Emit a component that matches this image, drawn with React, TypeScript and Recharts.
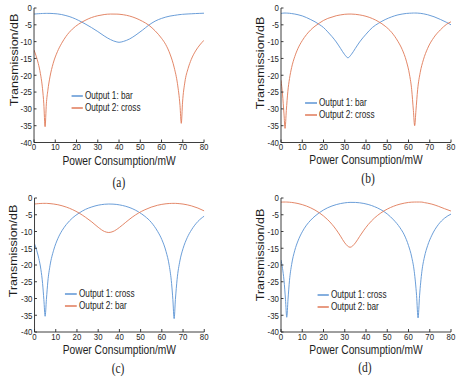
import React from 'react';
import { LineChart, Line, XAxis, YAxis, Legend, Label } from 'recharts';

// ---------- tick labels ----------
const X_TICKS = [0, 10, 20, 30, 40, 50, 60, 70, 80];
const Y_TICKS = [-40, -35, -30, -25, -20, -15, -10, -5, 0];

// ---------- panel (a) ----------
const X_A = [0, 1, 2, 3, 4, 4.6, 5.2, 5.8, 6.5, 7.5, 9, 11, 13, 15, 18, 21, 24, 27, 30, 33, 36, 39, 40, 42, 45, 48, 51, 54, 57, 60, 62, 64, 66, 67.5, 68.7, 69.3, 69.9, 71, 72.5, 74, 76, 78, 80];
const A_OUT1_BAR = [-1.8, -1.75, -1.7, -1.66, -1.63, -1.62, -1.6, -1.6, -1.6, -1.6, -1.65, -1.75, -1.95, -2.25, -2.85, -3.7, -4.7, -5.8, -7.0, -8.3, -9.4, -10.1, -10.2, -9.95, -9.2, -8.0, -6.6, -5.1, -3.9, -3.1, -2.7, -2.4, -2.2, -2.05, -1.95, -1.92, -1.88, -1.83, -1.77, -1.72, -1.65, -1.6, -1.55];
const A_OUT2_CROSS = [-12.5, -14.3, -16.5, -19.5, -24, -28.5, -35.3, -28.5, -24.5, -20.5, -16.5, -13, -10.5, -8.5, -6.3, -4.8, -3.7, -2.85, -2.3, -1.95, -1.8, -1.82, -1.85, -2.0, -2.4, -3.05, -3.95, -5.1, -6.8, -9.0, -10.9, -13.7, -17.8, -22.5, -29, -34.3, -28, -22, -18, -15.3, -12.8, -11, -9.6];

// ---------- panel (b) ----------
const X_B = [0, 0.7, 1.4, 1.9, 2.5, 3.2, 4, 5, 6.5, 8, 10, 12, 14, 16, 18, 20, 22, 24, 26, 28, 30, 31.5, 33, 35, 37, 40, 43, 46, 49, 52, 55, 57, 59, 60.5, 61.5, 62.3, 62.9, 63.5, 64.3, 65.5, 67, 69, 72, 75, 78, 80];
const B_OUT1_BAR = [-1.6, -1.55, -1.5, -1.5, -1.51, -1.53, -1.57, -1.65, -1.8, -2.0, -2.35, -2.85, -3.45, -4.1, -4.9, -5.8, -7.1, -8.5, -10.1, -12.0, -13.9, -14.8, -13.9, -12.0, -10.1, -7.8, -5.8, -4.5, -3.45, -2.65, -2.05, -1.8, -1.62, -1.55, -1.52, -1.5, -1.5, -1.5, -1.52, -1.58, -1.72, -2.0, -2.6, -3.4, -4.3, -5.0];
const B_OUT2_CROSS = [-21.5, -25.6, -31.5, -35.8, -30.5, -24.9, -21, -17.7, -14.4, -12.0, -9.7, -7.9, -6.5, -5.4, -4.5, -3.7, -3.1, -2.7, -2.3, -2.05, -1.87, -1.81, -1.8, -1.88, -2.05, -2.47, -3.14, -4.1, -5.4, -7.2, -9.9, -12.3, -15.8, -19.9, -24.3, -30.5, -35, -30.5, -24.3, -19.2, -15.4, -12.0, -8.7, -6.5, -4.8, -4.1];

// ---------- panel (c) ----------
const X_C = [0, 1, 2, 3, 3.8, 4.4, 5, 5.6, 6.3, 7.3, 9, 11, 13, 15, 18, 21, 24, 27, 30, 33, 35, 37, 40, 43, 46, 49, 52, 55, 58, 60, 62, 63.5, 64.6, 65.2, 65.8, 66.4, 67.2, 68.5, 70, 72, 74, 77, 80];
const C_OUT1_CROSS = [-13.7, -15.6, -18.0, -21.3, -25.5, -30.3, -35.3, -30.3, -24.8, -20.2, -15.6, -12.1, -9.7, -7.9, -5.9, -4.5, -3.4, -2.67, -2.15, -1.87, -1.8, -1.83, -2.05, -2.48, -3.15, -4.14, -5.46, -7.25, -9.96, -12.4, -16.0, -20.2, -25.5, -30.3, -36, -30.3, -24.3, -18.8, -15.1, -11.8, -9.5, -7.0, -5.4];
const C_OUT2_BAR = [-1.8, -1.73, -1.67, -1.63, -1.61, -1.6, -1.6, -1.6, -1.63, -1.67, -1.8, -2.01, -2.32, -2.72, -3.49, -4.49, -5.74, -7.14, -8.74, -10.0, -10.3, -10.0, -8.8, -7.25, -5.75, -4.5, -3.51, -2.73, -2.16, -1.9, -1.72, -1.64, -1.61, -1.6, -1.6, -1.6, -1.63, -1.7, -1.81, -2.04, -2.36, -3.0, -3.86];

// ---------- panel (d) ----------
const X_D = [0, 0.7, 1.4, 2.1, 2.7, 3.3, 4, 5, 6.5, 8, 10, 12, 14, 16, 18, 20, 22, 24, 26, 28, 30, 32.5, 35, 37, 39, 41, 44, 47, 50, 53, 56, 58, 60, 61.5, 62.7, 63.8, 64.5, 65.2, 66.3, 67.5, 69, 71, 74, 77, 80];
const D_OUT1_CROSS = [-18.5, -21.0, -24.55, -30.2, -35.6, -30.2, -24.55, -19.85, -15.6, -12.8, -10.1, -8.1, -6.6, -5.4, -4.4, -3.57, -2.9, -2.38, -1.97, -1.66, -1.45, -1.31, -1.32, -1.43, -1.63, -1.93, -2.58, -3.49, -4.77, -6.54, -8.88, -11.0, -14.2, -17.6, -21.9, -29.1, -35.8, -29.2, -21.9, -17.6, -14.2, -11.1, -7.97, -6.0, -4.8];
const D_OUT2_BAR = [-1.23, -1.21, -1.2, -1.2, -1.21, -1.23, -1.26, -1.32, -1.46, -1.65, -1.98, -2.41, -2.95, -3.61, -4.41, -5.36, -6.5, -7.86, -9.48, -11.38, -13.39, -14.7, -13.4, -11.46, -9.61, -7.96, -5.97, -4.46, -3.31, -2.45, -1.83, -1.54, -1.32, -1.24, -1.21, -1.2, -1.2, -1.2, -1.22, -1.38, -1.54, -1.83, -2.46, -3.2, -3.9];

// ---------- styling / layout ----------
const FONT = '"Liberation Sans", Arial, Helvetica, sans-serif';
const SERIF = '"Liberation Serif", "Times New Roman", Times, serif';
const AXIS = '#2a2a2a';
const TEXT = '#1e1e1e';
const BLUE = '#5c94d4';
const RED = '#e07a58';
const SX = 0.82; // the reference figure is horizontally compressed
const PAGE_W = 465 / SX;
const PW = 283;
const PH = 189;

type Cfg = {
  left: number; top: number;
  xs: number[]; s1: number[]; s2: number[];
  n1: string; n2: string;
  margin: { top: number; right: number; bottom: number; left: number };
  yw: number;
  xLabelY: number; yLabelX: number; yLabelY: number;
  legendLeft: number; legendTop: number;
};

const PANELS: Cfg[] = [
  { left: 0, top: 0, xs: X_A, s1: A_OUT1_BAR, s2: A_OUT2_CROSS, n1: 'Output 1: bar', n2: 'Output 2: cross',
    margin: { top: 8, right: 34.2, bottom: 26.5, left: 0 }, yw: 41.5,
    xLabelY: 165.5, yLabelX: 17, yLabelY: 60, legendLeft: 86.6, legendTop: 90 },
  { left: PW, top: 0, xs: X_B, s1: B_OUT1_BAR, s2: B_OUT2_CROSS, n1: 'Output 1: bar', n2: 'Output 2: cross',
    margin: { top: 8, right: 16, bottom: 26.5, left: 0 }, yw: 59.7,
    xLabelY: 164.5, yLabelX: 34, yLabelY: 63, legendLeft: 89, legendTop: 97 },
  { left: 0, top: PH, xs: X_C, s1: C_OUT1_CROSS, s2: C_OUT2_BAR, n1: 'Output 1: cross', n2: 'Output 2: bar',
    margin: { top: 9, right: 33.9, bottom: 26, left: 0 }, yw: 42.1,
    xLabelY: 165.5, yLabelX: 16, yLabelY: 62, legendLeft: 79.3, legendTop: 99 },
  { left: PW, top: PH, xs: X_D, s1: D_OUT1_CROSS, s2: D_OUT2_BAR, n1: 'Output 1: cross', n2: 'Output 2: bar',
    margin: { top: 9, right: 16, bottom: 26, left: 0 }, yw: 59.7,
    xLabelY: 165, yLabelX: 34, yLabelY: 66, legendLeft: 103.6, legendTop: 100 },
];

const CAPTIONS = [
  { text: '(a)', x: 145, y: 187 },
  { text: '(b)', x: 448.8, y: 183 },
  { text: '(c)', x: 144, y: 373 },
  { text: '(d)', x: 445, y: 372 },
];

function LegendBox(props: any) {
  const payload = props.payload || [];
  return (
    <div style={{ fontFamily: FONT, fontSize: 10, color: TEXT, lineHeight: '12px', whiteSpace: 'nowrap' }}>
      {payload.map((e: any, i: number) => (
        <div key={i} style={{ display: 'flex', alignItems: 'center', height: 12 }}>
          <svg width={14.6} height={4} style={{ display: 'block' }}>
            <line x1={0} y1={2} x2={14.6} y2={2} stroke={e.color} strokeWidth={1.6} />
          </svg>
          <span style={{ marginLeft: 2.4 }}>{e.value}</span>
        </div>
      ))}
    </div>
  );
}

function Panel({ cfg }: { cfg: Cfg }) {
  const rows = cfg.xs.map((x, i) => ({ x, s1: cfg.s1[i], s2: cfg.s2[i] }));
  const plotLeft = cfg.yw;
  const plotRight = PW - cfg.margin.right;
  const cx = (plotLeft + plotRight) / 2;
  const tickStyle = { fontSize: 9.6, fill: TEXT, fontFamily: FONT };
  return (
    <div style={{ position: 'absolute', left: cfg.left, top: cfg.top, width: PW, height: PH }}>
      <LineChart width={PW} height={PH} data={rows} margin={cfg.margin}>
        <XAxis dataKey="x" type="number" domain={[0, 80]} ticks={X_TICKS} interval={0} allowDataOverflow
          height={20} tickSize={-3} tickMargin={4}
          axisLine={{ stroke: AXIS }} tickLine={{ stroke: AXIS }} tick={tickStyle}>
          <Label content={() => (
            <text x={cx} y={cfg.xLabelY} textAnchor="middle" fontFamily={FONT} fontSize={12.5} fill={TEXT}>
              Power Consumption/mW
            </text>
          )} />
        </XAxis>
        <YAxis type="number" domain={[-40, 0]} ticks={Y_TICKS} interval={0} allowDataOverflow
          width={cfg.yw} tickSize={-3} tickMargin={5.5}
          axisLine={{ stroke: AXIS }} tickLine={{ stroke: AXIS }} tick={tickStyle}>
          <Label content={() => (
            <text x={cfg.yLabelX} y={cfg.yLabelY} transform={`rotate(-90 ${cfg.yLabelX} ${cfg.yLabelY})`}
              textAnchor="middle" dominantBaseline="central" fontFamily={FONT} fontSize={12.5} fill={TEXT}>
              Transmission/dB
            </text>
          )} />
        </YAxis>
        <XAxis xAxisId="top" orientation="top" dataKey="x" type="number" domain={[0, 80]} ticks={X_TICKS}
          interval={0} allowDataOverflow height={0} tick={false} tickSize={-3}
          axisLine={{ stroke: AXIS }} tickLine={{ stroke: AXIS }} />
        <YAxis yAxisId="right" orientation="right" type="number" domain={[-40, 0]} ticks={Y_TICKS}
          interval={0} allowDataOverflow width={0} tick={false} tickSize={-3}
          axisLine={{ stroke: AXIS }} tickLine={{ stroke: AXIS }} />
        <Line type="monotone" dataKey="s1" name={cfg.n1} stroke={BLUE} strokeWidth={1}
          dot={false} activeDot={false} isAnimationActive={false} />
        <Line type="monotone" dataKey="s2" name={cfg.n2} stroke={RED} strokeWidth={1}
          dot={false} activeDot={false} isAnimationActive={false} />
        <Legend layout="vertical" align="center" verticalAlign="middle" content={LegendBox}
          wrapperStyle={{ left: cfg.legendLeft, top: cfg.legendTop, width: 'auto', height: 'auto' }} />
      </LineChart>
    </div>
  );
}

export default function App() {
  return (
    <div style={{ position: 'absolute', left: 0, top: 0, width: 465, height: 378, background: '#fff', overflow: 'hidden' }}>
      <div style={{ position: 'absolute', left: 0, top: 0, width: PAGE_W, height: 378, transform: `scaleX(${SX})`, transformOrigin: '0 0' }}>
        {PANELS.map((p, i) => <Panel key={i} cfg={p} />)}
        <svg width={PAGE_W} height={378} style={{ position: 'absolute', left: 0, top: 0, pointerEvents: 'none' }}>
          {CAPTIONS.map((c, i) => (
            <text key={i} x={c.x} y={c.y} textAnchor="middle" fontFamily={SERIF} fontSize={14} fill={TEXT}>{c.text}</text>
          ))}
        </svg>
      </div>
    </div>
  );
}
